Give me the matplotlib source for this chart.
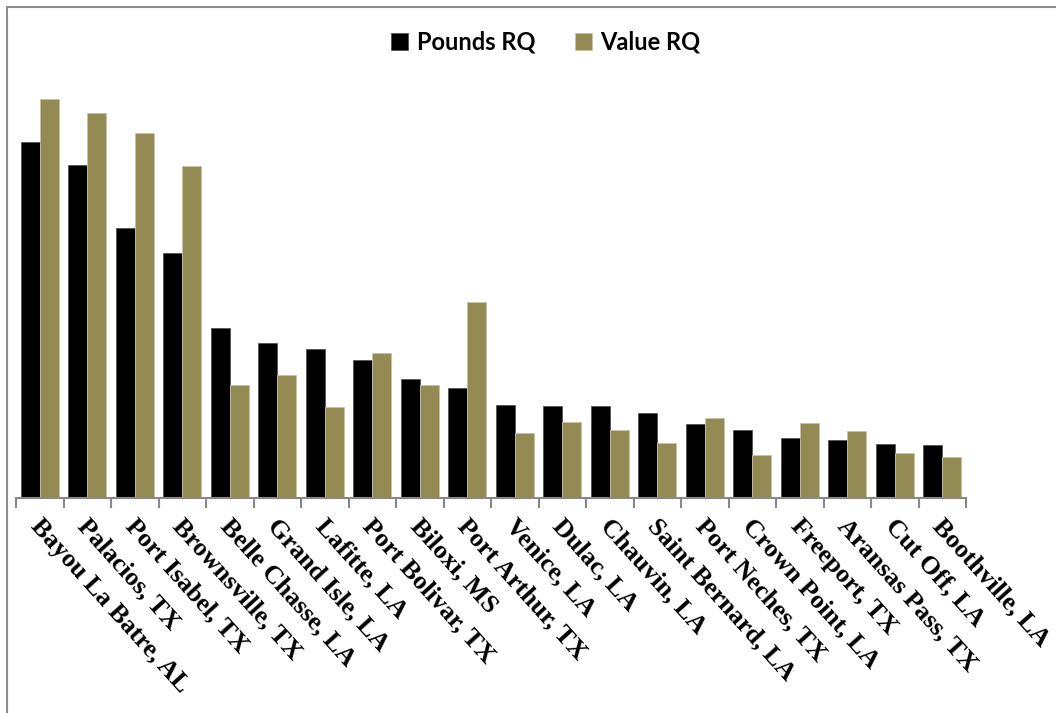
import matplotlib
matplotlib.use('Agg')
import matplotlib.pyplot as plt
import matplotlib.transforms as mtransforms
from matplotlib.patches import Rectangle
import numpy as np

ports = ['Bayou La Batre, AL', 'Palacios, TX', 'Port Isabel, TX', 'Brownsville, TX',
         'Belle Chasse, LA', 'Grand Isle, LA', 'Lafitte, LA', 'Port Bolivar, TX',
         'Biloxi, MS', 'Port Arthur, TX', 'Venice, LA', 'Dulac, LA', 'Chauvin, LA',
         'Saint Bernard, LA', 'Port Neches, TX', 'Crown Point, LA', 'Freeport, TX',
         'Aransas Pass, TX', 'Cut Off, LA', 'Boothville, LA']
pounds_rq = [3.56, 3.33, 2.70, 2.45, 1.70, 1.55, 1.49, 1.38, 1.19, 1.10,
             0.93, 0.92, 0.92, 0.85, 0.74, 0.68, 0.60, 0.58, 0.54, 0.53]
value_rq = [3.99, 3.85, 3.65, 3.32, 1.13, 1.23, 0.91, 1.45, 1.13, 1.96,
            0.65, 0.76, 0.68, 0.55, 0.80, 0.43, 0.75, 0.67, 0.45, 0.41]

W, H = 1056, 713
fig = plt.figure(figsize=(W / 100, H / 100), dpi=100)

# outer chart border (only top and left edges fall inside the picture)
fig.patches.append(Rectangle((7 / W, -0.1), 1.2, 1.1 - 7 / H, transform=fig.transFigure,
                             fill=False, edgecolor='#8c8c8c', linewidth=1.5))

ax = fig.add_axes([16 / W, (H - 497.7) / H, 950 / W, 440 / H])
x = np.arange(len(ports))
w = 0.4
ax.bar(x - w / 2, pounds_rq, w, color='black', edgecolor='#555555', linewidth=0.6,
       label='Pounds RQ')
ax.bar(x + w / 2, value_rq, w, color='#948A54', edgecolor='#c9c3a6', linewidth=0.6,
       label='Value RQ')

ax.set_xlim(-0.5, len(ports) - 0.5)
ax.set_ylim(0, 4.4)
for s in ['top', 'right', 'left']:
    ax.spines[s].set_visible(False)
ax.spines['bottom'].set_color('#888888')
ax.spines['bottom'].set_linewidth(1.5)
ax.set_yticks([])

ax.set_xticks(np.arange(len(ports) + 1) - 0.5, minor=True)
ax.tick_params(axis='x', which='minor', length=7, width=1.5, color='#888888')
ax.set_xticks(x)
ax.set_xticklabels(ports, rotation=-48, ha='left', va='top', rotation_mode='anchor',
                   fontfamily='Liberation Serif', fontweight='bold', fontsize=18.8)
ax.tick_params(axis='x', which='major', length=0, pad=12)
shift = mtransforms.ScaledTranslation(3 / 100, 0, fig.dpi_scale_trans)
for lab in ax.get_xticklabels():
    lab.set_transform(lab.get_transform() + shift)

fig.legend(loc='center', bbox_to_anchor=(546 / W, 1 - 42 / H), ncol=2, frameon=False,
           prop={'family': 'Lato', 'weight': 'bold', 'size': 17},
           handlelength=0.72, handleheight=0.72, handletextpad=0.35, columnspacing=1.7)

fig.savefig('out.png', dpi=100)
